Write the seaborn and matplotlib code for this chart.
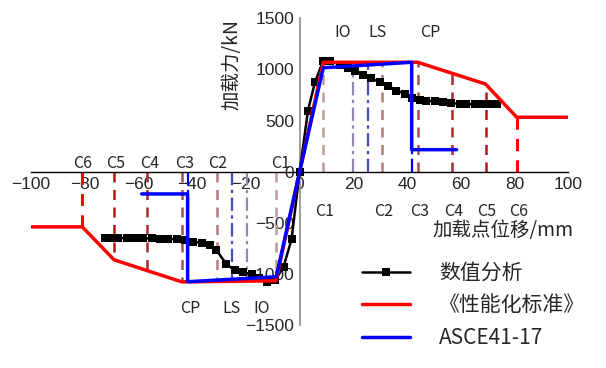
import numpy as np
import pandas as pd
import matplotlib
matplotlib.use("Agg")
import matplotlib.pyplot as plt
import seaborn as sns

# ---------------------------
# data
# ---------------------------
num_x = [-72.5, -70.6, -67.5, -64.4, -61.3, -58.2, -55.1, -52.0, -48.9, -45.8, -42.7,
         -39.6, -36.5, -33.5, -31.0, -27.3, -24.2, -21.0, -17.9, -15.0, -12.1, -9.0,
         -6.0, -3.0, 0.0, 3.1, 5.7, 8.7, 11.3, 15.0, 18.1, 20.6, 23.7, 26.5, 29.9,
         33.0, 36.0, 39.2, 41.7, 44.8, 47.2, 50.3, 53.4, 56.5, 59.6, 62.1, 65.2,
         67.7, 70.8, 73.3]
num_y = [-650, -650, -650, -650, -651, -652, -653, -655, -658, -662, -669,
         -686, -695, -715, -767, -904, -963, -986, -1002, -1040, -1084, -1060,
         -930, -660, 0, 597, 875, 1080, 1087, 1045, 1016, 982, 950, 914, 875,
         842, 793, 761, 722, 702, 695, 689, 679, 669, 662, 659, 659,
         659, 662, 666]

std_x = [-100, -80.9, -69.1, -43.9, -8.8, 0, 8.8, 43.9, 69.2, 80.8, 100]
std_y = [-540, -540, -862, -1078, -1068, 0, 1070, 1070, 857, 532, 532]

asce_x = [-58.8, -41.7, -41.7, -8.7, 0, 8.8, 41.7, 41.7, 58.4]
asce_y = [-218, -218, -1077, -1028, 0, 1016, 1070, 215, 215]

c_names = ["C1", "C2", "C3", "C4", "C5", "C6"]
c_pos = [8.8, 30.5, 43.9, 56.8, 69.2, 80.8]
c_neg = [-8.8, -30.7, -43.9, -56.7, -69.1, -80.9]
c_lab_neg = [-7.2, -30.4, -43.0, -55.7, -68.3, -80.7]
c_colors = ["#bf9a9a", "#b27a7a", "#a85050", "#a82a2a", "#b81414", "#ff0000"]

p_names = ["IO", "LS", "CP"]
p_pos = [19.7, 25.3, 41.7]
p_neg = [-19.7, -25.3, -41.7]
p_colors = ["#8a8ab8", "#4848c0", "#0000ff"]
p_lab_pos = [16.1, 29.1, 48.5]
p_lab_neg = [-14.0, -25.2, -40.8]

CJK = ["Noto Sans CJK SC", "DejaVu Sans"]

sns.set_style("white")
plt.rcParams["font.family"] = ["Liberation Sans", "DejaVu Sans"]
plt.rcParams["axes.unicode_minus"] = True

fig = plt.figure(figsize=(6.06, 3.68), dpi=100)
ax = fig.add_axes([31 / 606, 1 - 325 / 368, 537.3 / 606, 306.7 / 368])


def curve_y(xs, ys, x):
    return float(np.interp(x, xs, ys))


# red "C" marker lines (from axis up to the red curve)
for name, xp, xn, col in zip(c_names, c_pos, c_neg, c_colors):
    lw = 2.2 if name == "C6" else 1.8
    ax.plot([xp, xp], [0, curve_y(std_x, std_y, xp)], ls=(0, (4, 3)), color=col, lw=lw, zorder=1)
    ax.plot([xn, xn], [0, curve_y(std_x, std_y, xn)], ls=(0, (4, 3)), color=col, lw=lw, zorder=1)

# blue IO/LS/CP dash-dot lines
asce_pos_x = asce_x[4:7]
asce_pos_y = asce_y[4:7]
asce_neg_x = asce_x[2:5]
asce_neg_y = asce_y[2:5]
for name, xp, xn, col in zip(p_names, p_pos, p_neg, p_colors):
    ax.plot([xp, xp], [0, curve_y(asce_pos_x, asce_pos_y, xp)], ls=(0, (6, 2, 1.5, 2)), color=col, lw=1.6, zorder=1)
    ax.plot([xn, xn], [0, curve_y(asce_neg_x, asce_neg_y, xn)], ls=(0, (6, 2, 1.5, 2)), color=col, lw=1.6, zorder=1)

df_num = pd.DataFrame({"x": num_x, "y": num_y})
df_std = pd.DataFrame({"x": std_x, "y": std_y})
df_asce = pd.DataFrame({"x": asce_x, "y": asce_y})

sns.lineplot(data=df_num, x="x", y="y", sort=False, estimator=None, color="black",
             lw=1.8, marker="s", markersize=5.5, markeredgewidth=0, ax=ax, zorder=3,
             label="数值分析")
sns.lineplot(data=df_std, x="x", y="y", sort=False, estimator=None, color="#ff0000",
             lw=2.5, ax=ax, zorder=4, label="《性能化标准》")
sns.lineplot(data=df_asce, x="x", y="y", sort=False, estimator=None, color="#0000ff",
             lw=2.5, ax=ax, zorder=5, label="ASCE41-17")

# labels C1..C6
for name, xp in zip(c_names, c_pos):
    ax.text(xp + 0.6, -392, name, ha="center", va="center", fontsize=11.5, family=CJK)
for name, xn in zip(c_names, c_lab_neg):
    ax.text(xn, 78, name, ha="center", va="center", fontsize=11.5, family=CJK)
for name, xp, xn in zip(p_names, p_lab_pos, p_lab_neg):
    ax.text(xp, 1361, name, ha="center", va="center", fontsize=11.5, family=CJK)
    ax.text(xn, -1342, name, ha="center", va="center", fontsize=11.5, family=CJK)

# axes through the origin
ax.set_xlim(-100, 100)
ax.set_ylim(-1500, 1500)
ax.spines["left"].set_position(("data", 0))
ax.spines["bottom"].set_position(("data", 0))
ax.spines["top"].set_visible(False)
ax.spines["right"].set_visible(False)
ax.spines["left"].set_color("#8c8c8c")
ax.spines["bottom"].set_color("black")
ax.spines["left"].set_linewidth(1.2)
ax.spines["bottom"].set_linewidth(1.0)
ax.set_xticks(np.arange(-100, 101, 20))
ax.set_yticks(np.arange(-1500, 1501, 500))
ax.tick_params(axis="both", direction="in", length=5, labelsize=12.5, pad=4)
ax.tick_params(axis="y", color="#8c8c8c")
ax.set_xlabel("")
ax.set_ylabel("")
ax.patch.set_alpha(0)

fig.text(232 / 606, 1 - 65 / 368, "加载力/kN", rotation=90, ha="center", va="center",
         fontsize=14, family=CJK)
fig.text(432 / 606, 1 - 231 / 368, "加载点位移/mm", ha="left", va="center",
         fontsize=14, family=CJK)

ax.get_legend().remove()
h, l = ax.get_legend_handles_labels()
fig.legend(h, l, loc="upper left", bbox_to_anchor=(362 / 606, 1 - 262 / 368),
           frameon=False, prop={"family": CJK, "size": 15}, handlelength=2.3,
           handletextpad=1.4, labelspacing=0.5, borderpad=0, borderaxespad=0)

fig.savefig("out.png", dpi=100)
